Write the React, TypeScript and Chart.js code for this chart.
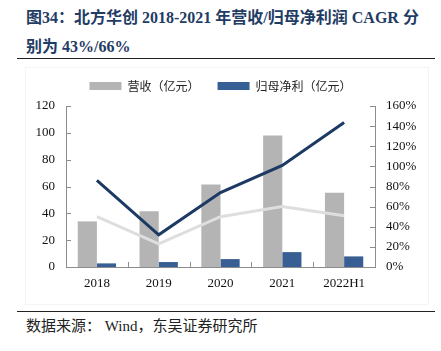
import React, { useEffect, useRef } from "react";
import { Chart, registerables } from "chart.js";
Chart.register(...registerables);

const categories = ["2018", "2019", "2020", "2021", "2022H1"];
const revenue = [34, 41.5, 61.5, 98, 55.3];
const netProfit = [2.7, 3.7, 5.9, 11.1, 7.9];
const netProfitGrowth = [86, 32, 74, 101, 143.5];
const revenueGrowth = [50, 23, 50, 60, 51];
const leftMax = 120;
const rightMax = 160;
const tickStep = 20;

const NUM_FONT = "'Liberation Serif', 'Noto Sans CJK SC', serif";
const AXIS_COLOR = "#8c8c8c";

const inwardTicks = {
  id: "inwardTicks",
  afterDatasetsDraw(chart: any) {
    const ctx = chart.ctx;
    const { left, right, bottom } = chart.chartArea;
    ctx.save();
    ctx.strokeStyle = AXIS_COLOR;
    ctx.lineWidth = 1;
    ctx.beginPath();
    const y = chart.scales.y;
    y.ticks.forEach((_: any, i: number) => {
      const py = Math.round(y.getPixelForTick(i)) + 0.5;
      ctx.moveTo(left, py);
      ctx.lineTo(left + 5, py);
    });
    const y1 = chart.scales.y1;
    y1.ticks.forEach((_: any, i: number) => {
      const py = Math.round(y1.getPixelForTick(i)) + 0.5;
      ctx.moveTo(right, py);
      ctx.lineTo(right - 5, py);
    });
    const n = categories.length;
    const w = (right - left) / n;
    for (let i = 1; i < n; i++) {
      const px = Math.round(left + i * w) + 0.5;
      ctx.moveTo(px, bottom);
      ctx.lineTo(px, bottom - 5);
    }
    ctx.stroke();
    ctx.restore();
  },
};

const legendGap = {
  id: "legendGap",
  beforeUpdate(chart: any) {
    const lg = chart.legend;
    if (lg && !lg.__patched) {
      const orig = lg.fit;
      lg.fit = function () {
        orig.call(this);
        this.height += 4;
      };
      lg.__patched = true;
    }
  },
};

function ChartBox() {
  const ref = useRef<HTMLCanvasElement>(null);
  useEffect(() => {
    if (!ref.current) return;
    const chart = new Chart(ref.current, {
      type: "bar",
      data: {
        labels: categories,
        datasets: [
          {
            type: "line",
            label: "归母净利同比",
            data: netProfitGrowth,
            yAxisID: "y1",
            borderColor: "#1c3a63",
            borderWidth: 3,
            pointRadius: 0,
            tension: 0,
            order: 0,
          } as any,
          {
            type: "line",
            label: "营收同比",
            data: revenueGrowth,
            yAxisID: "y1",
            borderColor: "#dedede",
            borderWidth: 3,
            pointRadius: 0,
            tension: 0,
            order: 1,
          } as any,
          {
            label: "营收（亿元）   ",
            data: revenue,
            yAxisID: "y",
            backgroundColor: "#b4b4b4",
            categoryPercentage: 0.62,
            barPercentage: 1.0,
            order: 2,
          },
          {
            label: "归母净利（亿元）",
            data: netProfit,
            yAxisID: "y",
            backgroundColor: "#385f94",
            categoryPercentage: 0.62,
            barPercentage: 1.0,
            order: 3,
          },
        ],
      },
      options: {
        animation: false,
        responsive: false,
        maintainAspectRatio: false,
        layout: { padding: { top: 2, left: 0, right: 0, bottom: 0 } },
        plugins: {
          tooltip: { enabled: false },
          legend: {
            display: true,
            position: "top",
            labels: {
              filter: (item: any) => item.datasetIndex >= 2,
              boxWidth: 32,
              boxHeight: 8,
              color: "#222",
              font: { family: "'Noto Sans CJK SC', sans-serif", size: 12 },
              padding: 10,
              sort: (a: any, b: any) => a.datasetIndex - b.datasetIndex,
            },
          },
        },
        scales: {
          x: {
            grid: { display: false, drawTicks: false },
            border: { display: true, color: AXIS_COLOR },
            ticks: {
              color: "#111",
              font: { family: NUM_FONT, size: 13 },
              padding: 9,
            },
            afterFit: (s: any) => {
              s.height = 38;
            },
          },
          y: {
            position: "left",
            min: 0,
            max: leftMax,
            grid: { display: false, drawTicks: false },
            border: { display: true, color: AXIS_COLOR },
            ticks: {
              stepSize: tickStep,
              color: "#111",
              font: { family: NUM_FONT, size: 13 },
              padding: 11,
            },
            afterFit: (s: any) => {
              s.width = 66;
            },
          },
          y1: {
            position: "right",
            min: 0,
            max: rightMax,
            grid: { display: false, drawTicks: false },
            border: { display: true, color: AXIS_COLOR },
            ticks: {
              stepSize: tickStep,
              color: "#111",
              font: { family: NUM_FONT, size: 13 },
              padding: 11,
              callback: (v: any) => v + "%",
            },
            afterFit: (s: any) => {
              s.width = 66;
            },
          },
        },
      },
      plugins: [inwardTicks, legendGap],
    });
    return () => chart.destroy();
  }, []);
  return (
    <canvas
      ref={ref}
      width={441}
      height={237}
      style={{ position: "absolute", left: 0, top: 68, width: 441, height: 237 }}
    />
  );
}

export default function App() {
  return (
    <div
      style={{
        position: "fixed",
        left: 0,
        top: 0,
        width: 441,
        height: 351,
        background: "#fff",
        overflow: "hidden",
      }}
    >
      <div
        style={{
          position: "absolute",
          left: 26,
          top: 3,
          width: 420,
          fontFamily: "'Liberation Serif', 'Noto Sans CJK SC', serif",
          fontWeight: "bold",
          fontSize: 16,
          lineHeight: "29px",
          color: "#1f3c64",
          whiteSpace: "nowrap",
        }}
      >
        <div>图34：北方华创 2018-2021 年营收/归母净利润 CAGR 分</div>
        <div>别为 43%/66%</div>
      </div>
      <div
        style={{
          position: "absolute",
          left: 17,
          top: 58,
          width: 418,
          height: 0,
          borderTop: "1.5px solid #222",
        }}
      />
      <div
        style={{
          position: "absolute",
          left: 25,
          top: 67,
          width: 402,
          height: 236,
          border: "1px solid #f4f4f4",
        }}
      />
      <ChartBox />
      <div
        style={{
          position: "absolute",
          left: 17,
          top: 311,
          width: 418,
          height: 0,
          borderTop: "1.5px solid #222",
        }}
      />
      <div
        style={{
          position: "absolute",
          left: 26,
          top: 317,
          fontFamily: "'Liberation Serif', 'Noto Sans CJK SC', serif",
          fontSize: 15,
          lineHeight: "18px",
          color: "#222",
          whiteSpace: "nowrap",
        }}
      >
        数据来源： Wind，东吴证券研究所
      </div>
    </div>
  );
}
